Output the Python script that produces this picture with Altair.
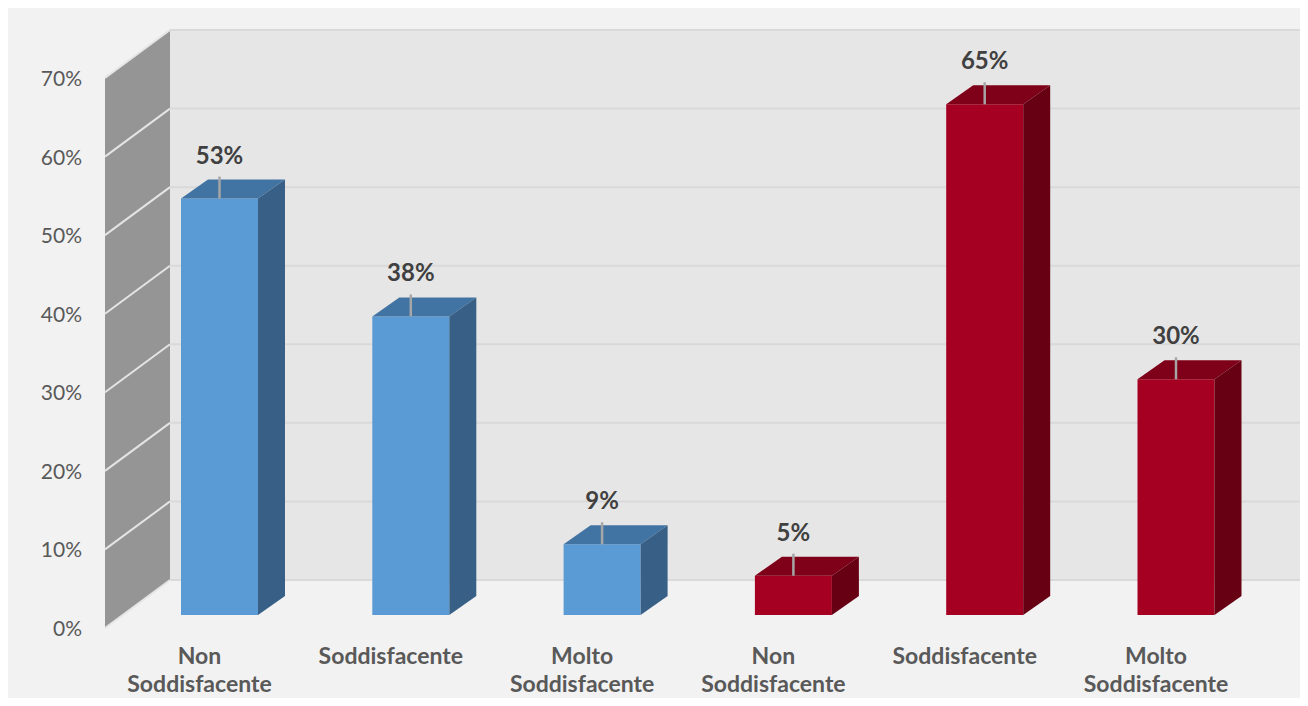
import altair as alt
import pandas as pd

# ---------------- data ----------------
categories = ["Non\nSoddisfacente", "Soddisfacente", "Molto\nSoddisfacente",
              "Non\nSoddisfacente", "Soddisfacente", "Molto\nSoddisfacente"]
values = [53, 38, 9, 5, 65, 30]
series = ["A", "A", "A", "B", "B", "B"]
tick_values = [0, 10, 20, 30, 40, 50, 60, 70]

front_colors = {"A": "#5B9BD5", "B": "#A50021"}
top_colors = {"A": "#4274A3", "B": "#7E0019"}
side_colors = {"A": "#386087", "B": "#680014"}

# ---------------- geometry ----------------
W, H = 1292, 690
PX = 550 / 70.0                 # pixels per percent
Y_TOP = (628 - 8) / PX
Y_BOT = (628 - 698) / PX
C0, STEP, HALF = 211.5, 191.3, 38.5
DX, DY = 27, 19 / PX
BASE = 13 / PX
WALL_L, WALL_R = 97, 162
WALL_DY = 48 / PX
YMAX = 70

xs = alt.Scale(domain=[0, W], nice=False, zero=False)
ys = alt.Scale(domain=[Y_BOT, Y_TOP], nice=False, zero=False)


def X(f="x"):
    return alt.X(f + ":Q", scale=xs, axis=None)


def Y(f="y"):
    return alt.Y(f + ":Q", scale=ys, axis=None, stack=None)


# back wall
back = pd.DataFrame([{"x": WALL_R, "x2": W, "y": WALL_DY, "y2": YMAX + WALL_DY}])
back_layer = alt.Chart(back).mark_rect(color="#E6E6E6").encode(
    x=X(), x2="x2:Q", y=Y(), y2="y2:Q")

grid = pd.DataFrame({"y": [t + WALL_DY for t in tick_values]})
grid["x"] = WALL_R
grid["x2"] = W
grid_layer = alt.Chart(grid).mark_rule(color="#D9D9D9", strokeWidth=2).encode(
    x=X(), x2="x2:Q", y=Y())

# side wall
side = pd.DataFrame([{"x": WALL_L, "y": 0, "y2": YMAX},
                     {"x": WALL_R, "y": WALL_DY, "y2": YMAX + WALL_DY}])
side_layer = alt.Chart(side).mark_area(color="#959595", orient="vertical").encode(
    x=X(), y=Y(), y2="y2:Q")

sgrid = pd.DataFrame({"y": tick_values})
sgrid["y2"] = sgrid["y"] + WALL_DY
sgrid["x"] = WALL_L
sgrid["x2"] = WALL_R
sgrid_layer = alt.Chart(sgrid).mark_rule(color="#E4E4E4", strokeWidth=2).encode(
    x=X(), x2="x2:Q", y=Y(), y2="y2:Q")

# bars
front_rows, top_rows, side_rows, lab_rows, cat_rows = [], [], [], [], []
for i, (v, s, c) in enumerate(zip(values, series, categories)):
    cx = C0 + i * STEP
    xl, xr = cx - HALF, cx + HALF
    T = v + BASE
    front_rows.append({"x": xl, "x2": xr, "y": BASE, "y2": T, "fill": front_colors[s]})
    for (px, y1, y2) in [(xl, T, T), (xl + DX, T, T + DY), (xr, T, T + DY), (xr + DX, T + DY, T + DY)]:
        top_rows.append({"id": i, "x": px, "y": y1, "y2": y2, "fill": top_colors[s]})
    for (px, y1, y2) in [(xr, BASE, T), (xr + DX, BASE + DY, T + DY)]:
        side_rows.append({"id": i, "x": px, "y": y1, "y2": y2, "fill": side_colors[s]})
    lab_rows.append({"x": cx, "y": T, "y2": T + 22 / PX, "label": f"{v}%"})
    cat_rows.append({"x": cx - 20, "y": (628 - 664) / PX, "label": c})

front_layer = alt.Chart(pd.DataFrame(front_rows)).mark_rect().encode(
    x=X(), x2="x2:Q", y=Y(), y2="y2:Q", color=alt.Color("fill:N", scale=None))

top_layer = alt.Chart(pd.DataFrame(top_rows)).mark_area(orient="vertical").encode(
    x=X(), y=Y(), y2="y2:Q", color=alt.Color("fill:N", scale=None), detail="id:N")

side_bar_layer = alt.Chart(pd.DataFrame(side_rows)).mark_area(orient="vertical").encode(
    x=X(), y=Y(), y2="y2:Q", color=alt.Color("fill:N", scale=None), detail="id:N")

labs = pd.DataFrame(lab_rows)
leader_layer = alt.Chart(labs).mark_rule(color="#A6A6A6", strokeWidth=2.5).encode(
    x=X(), y=Y(), y2="y2:Q")

label_layer = alt.Chart(labs).mark_text(
    font="Lato", fontSize=24, fontWeight="bold", color="#404040",
    baseline="middle", align="center", dy=-42).encode(
    x=X(), y=Y(), text="label:N")

ticks = pd.DataFrame({"y": tick_values, "label": [f"{t}%" for t in tick_values]})
ticks["x"] = 74
tick_layer = alt.Chart(ticks).mark_text(
    font="Lato", fontSize=21, color="#595959", align="right", baseline="middle", dy=2).encode(
    x=X(), y=Y(), text="label:N")

cat_layer = alt.Chart(pd.DataFrame(cat_rows)).mark_text(
    font="Lato", fontSize=23, fontWeight="bold", color="#595959", align="center",
    baseline="alphabetic", lineBreak="\n", lineHeight=28).encode(
    x=X(), y=Y(), text="label:N")

chart = alt.layer(
    back_layer, grid_layer, side_layer, sgrid_layer,
    front_layer, top_layer, side_bar_layer,
    leader_layer, label_layer, tick_layer, cat_layer
).properties(
    width=W, height=H, autosize=alt.AutoSizeParams(type="none"), padding=0,
    background="#F2F2F2"
).configure_view(strokeWidth=0)

chart.save("out.html", embed_options={"renderer": "svg", "actions": False})
